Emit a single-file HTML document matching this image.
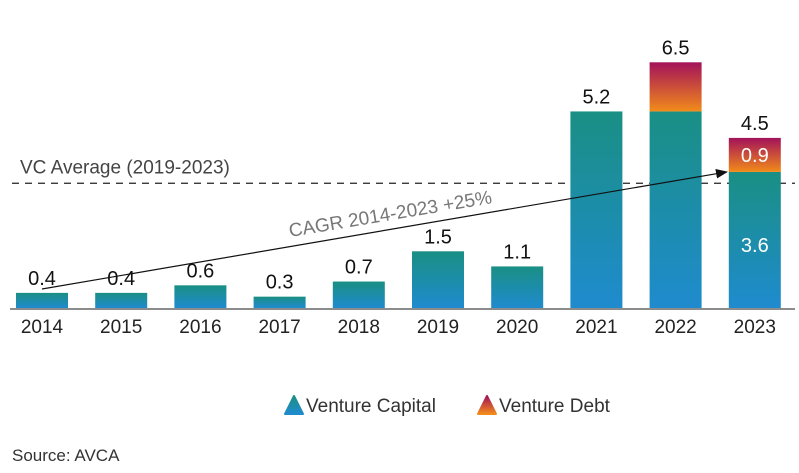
<!DOCTYPE html>
<html><head><meta charset="utf-8"><style>
body{margin:0;background:#fff;width:799px;height:468px;overflow:hidden;font-family:"Liberation Sans","DejaVu Sans",sans-serif}
</style></head><body>
<svg id="chart" width="799" height="468" xmlns="http://www.w3.org/2000/svg">
<defs>
<linearGradient id="gvc" x1="0" y1="0" x2="0" y2="1"><stop offset="0" stop-color="#1a8f84"/><stop offset="1" stop-color="#1f8bce"/></linearGradient>
<linearGradient id="gvd" x1="0" y1="0" x2="0" y2="1"><stop offset="0" stop-color="#a3125a"/><stop offset="1" stop-color="#f28b1a"/></linearGradient>
<marker id="ah" markerWidth="10" markerHeight="8" refX="9" refY="4" orient="auto"><path d="M0,0 L10,4 L0,8 Z" fill="#111"/></marker>
</defs>
<g id="grid"></g><g id="bars"></g><g id="labels"></g>
<text x="12" y="461" font-size="17" fill="#333">Source: AVCA</text>
</svg>
<script>
const years=["2014","2015","2016","2017","2018","2019","2020","2021","2022","2023"];
const vc=[0.4,0.4,0.6,0.3,0.7,1.5,1.1,5.2,5.2,3.6];
const vd=[0,0,0,0,0,0,0,0,1.3,0.9];
const totals=["0.4","0.4","0.6","0.3","0.7","1.5","1.1","5.2","6.5","4.5"];
const vcAvg=3.3;
const NS="http://www.w3.org/2000/svg";
const base=308, k=37.8, x0=42, step=79.2, bw=52;
const X=i=>x0+i*step, Y=v=>base-v*k;
const svg=document.getElementById('chart');
function mk(t,a,p){const e=document.createElementNS(NS,t);for(const q in a)e.setAttribute(q,a[q]);(p||svg).appendChild(e);return e;}
const g=document.getElementById('grid'),b=document.getElementById('bars'),l=document.getElementById('labels');
const dl=mk('line',{x1:12,x2:795,y1:Y(vcAvg),y2:Y(vcAvg),stroke:'#222','stroke-width':1.2,'stroke-dasharray':'7,6'},g);


const dt=mk('text',{x:20,y:Y(vcAvg)-10,'font-size':19,fill:'#444'},g);dt.textContent='VC Average (2019-2023)';


years.forEach((yr,i)=>{
 const r=mk('rect',{x:X(i)-bw/2,y:Y(vc[i]),width:bw,height:vc[i]*k,fill:'url(#gvc)'},b);
 
 
 if(vd[i]>0){
  const r2=mk('rect',{x:X(i)-bw/2,y:Y(vc[i]+vd[i]),width:bw,height:vd[i]*k,fill:'url(#gvd)'},b);
  
  
 }
 const t=mk('text',{x:X(i),y:Y(vc[i]+vd[i])-8,'font-size':20,'text-anchor':'middle',fill:'#111'},l);t.textContent=totals[i];
 
 
 const xt=mk('text',{x:X(i),y:333,'font-size':19,'text-anchor':'middle',fill:'#222'},l);xt.textContent=yr;
 
 
});
const i9=9;
const s1=mk('text',{x:X(i9),y:Y(vc[i9])+80,'font-size':20,'text-anchor':'middle',fill:'#fff'},l);s1.textContent=vc[i9].toFixed(1);


const s2=mk('text',{x:X(i9),y:Y(vc[i9]+vd[i9]/2)+7,'font-size':20,'text-anchor':'middle',fill:'#fff'},l);s2.textContent=vd[i9].toFixed(1);


const ax=mk('line',{x1:10,x2:795,y1:base+1,y2:base+1,stroke:'#666','stroke-width':1.5},l);


const ar=mk('line',{x1:X(0),y1:base-19,x2:X(9)-28,y2:Y(vc[9]),stroke:'#111','stroke-width':1.2,'marker-end':'url(#ah)'},l);


const ct=mk('text',{x:290,y:237,'font-size':19,fill:'#777',transform:'rotate(-9.5 290 237)'},l);ct.textContent='CAGR 2014-2023 +25%';


const leg=[["Venture Capital","url(#gvc)",285],["Venture Debt","url(#gvd)",478]];
leg.forEach(([n,f,x])=>{
 const gg=mk('g',{},svg);
 
 
 mk('path',{d:`M${x},414 L${x+9},396 L${x+18},414 Z`,fill:f,'stroke-linejoin':'round',stroke:f,'stroke-width':2},gg);
 const t=mk('text',{x:x+21,y:412,'font-size':19,fill:'#333'},gg);t.textContent=n;
});
</script>
</body></html>
